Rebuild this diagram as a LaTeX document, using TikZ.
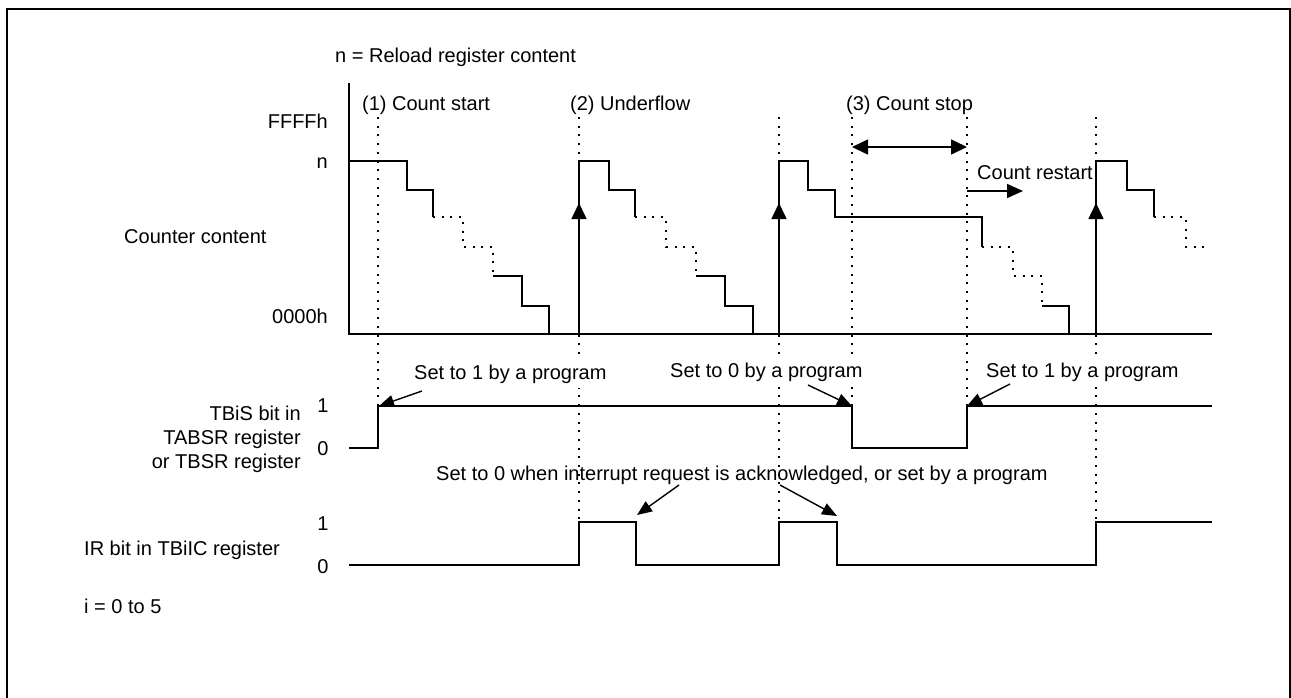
\documentclass[tikz,border=0pt]{standalone}
\usepackage{fontspec}
\setmainfont{Liberation Sans}
\usetikzlibrary{arrows.meta}
\begin{document}
\begin{tikzpicture}[x=1pt,y=-1pt,
  every node/.style={font=\fontsize{20}{24}\selectfont, inner sep=0pt},
  wave/.style={line width=1.6pt, line join=miter},
  dotln/.style={line width=2pt, dash pattern=on 2pt off 6.7pt},
  uptip/.style={line width=1.6pt, -{Triangle[length=16pt,width=15pt]}},
  lbltip/.style={line width=1.4pt, -{Triangle[length=15pt,width=12pt]}},
  lbl/.style={fill=white, inner xsep=2pt, inner ysep=5pt},
]
\clip (0,0) rectangle (1291,697);
\useasboundingbox (0,0) rectangle (1291,697);
\draw[line width=2.2pt] (7,9) rectangle (1290,720);

% dotted guide lines
\coordinate (d1t) at (378,117); \coordinate (d1b) at (378,406);
\coordinate (d2t) at (579,117); \coordinate (d2b) at (579,522);
\coordinate (d3t) at (779,117); \coordinate (d3b) at (779,522);
\coordinate (d4t) at (852,117); \coordinate (d4b) at (852,406);
\coordinate (d5t) at (967,117); \coordinate (d5b) at (967,406);
\coordinate (d6t) at (1096,117); \coordinate (d6b) at (1096,522);
\foreach \i in {1,...,6} { \draw[dotln] (d\i t) -- (d\i b); }

% axes
\coordinate (axtop) at (349,83);
\coordinate (orig) at (349,334);
\coordinate (axend) at (1212,334);
\draw[wave] (axtop) -- (orig) -- (axend);

% counter content
\draw[wave] (349,161) -- (407,161) -- (407,190) -- (433,190) -- (433,217);
\draw[dotln] (433,217) -- (463,217) -- (463,247) -- (493,247) -- (493,276);
\draw[wave] (493,276) -- (522,276) -- (522,306) -- (549,306) -- (549,334);

\draw[wave] (579,334) -- (579,161) -- (609,161) -- (609,190) -- (635,190) -- (635,217);
\draw[dotln] (635,217) -- (666,217) -- (666,247) -- (696,247) -- (696,276);
\draw[wave] (696,276) -- (725,276) -- (725,306) -- (753,306) -- (753,334);

\draw[wave] (779,334) -- (779,161) -- (808,161) -- (808,190) -- (835,190) -- (835,217) -- (982,217) -- (982,247);
\draw[dotln] (982,247) -- (1013,247) -- (1013,276) -- (1042,276) -- (1042,306);
\draw[wave] (1042,306) -- (1069,306) -- (1069,334);

\draw[wave] (1096,334) -- (1096,161) -- (1127,161) -- (1127,190) -- (1154,190) -- (1154,217);
\draw[dotln] (1154,217) -- (1186,217) -- (1186,247) -- (1207,247);

% underflow arrows
\coordinate (u1) at (579,334); \coordinate (u1t) at (579,203);
\coordinate (u2) at (779,334); \coordinate (u2t) at (779,203);
\coordinate (u3) at (1096,334); \coordinate (u3t) at (1096,203);
\draw[uptip] (u1) -- (u1t);
\draw[uptip] (u2) -- (u2t);
\draw[uptip] (u3) -- (u3t);

% stop interval and restart
\coordinate (stopl) at (852,147); \coordinate (stopr) at (967,147);
\draw[line width=1.6pt, {Triangle[length=16pt,width=15pt]}-{Triangle[length=16pt,width=15pt]}] (stopl) -- (stopr);
\coordinate (rs) at (967,191); \coordinate (re) at (1023,191);
\draw[line width=1.6pt, -{Triangle[length=16pt,width=14pt]}] (rs) -- (re);

% TBiS waveform
\draw[wave] (349,448) -- (378,448) -- (378,406) -- (852,406) -- (852,448) -- (967,448) -- (967,406) -- (1212,406);

% IR waveform
\draw[wave] (349,565) -- (579,565) -- (579,522) -- (636,522) -- (636,565) -- (779,565) -- (779,522) -- (837,522) -- (837,565) -- (1096,565) -- (1096,522) -- (1212,522);

% texts
\node[anchor=base west] (title) at (335,62) {n = Reload register content};
\node[anchor=base west] (ev1) at (362,110) {(1) Count start};
\node[anchor=base west] (ev2) at (570,110) {(2) Underflow};
\node[anchor=base west] (ev3) at (846,110) {(3) Count stop};
\node[anchor=base west] (restart) at (977,179) {Count restart};
\node[anchor=base east] (ffff) at (328,128) {FFFFh};
\node[anchor=base east] (nlab) at (328,168) {n};
\node[anchor=base west] (cc) at (124,243) {Counter content};
\node[anchor=base east] (zero) at (328,323) {0000h};
\node[anchor=base east] (tb1) at (301,420) {TBiS bit in};
\node[anchor=base east] (tb2) at (301,444) {TABSR register};
\node[anchor=base east] (tb3) at (301,468) {or TBSR register};
\node[anchor=base] (tbone) at (323,412) {1};
\node[anchor=base] (tbzero) at (323,455) {0};
\node[anchor=base west] (ir) at (84,555) {IR bit in TBiIC register};
\node[anchor=base] (irone) at (323,530) {1};
\node[anchor=base] (irzero) at (323,573) {0};
\node[anchor=base west] (inote) at (84,613) {i = 0 to 5};

\node[lbl, anchor=base west] (s1) at (412,379) {Set to 1 by a program};
\node[lbl, anchor=base west] (s0) at (668,377) {Set to 0 by a program};
\node[lbl, anchor=base west] (s1b) at (984,377) {Set to 1 by a program};
\node[anchor=base west] (ack) at (436,480) {Set to 0 when interrupt request is acknowledged, or set by a program};

% label arrows
\coordinate (a1s) at (422,391); \coordinate (a1t) at (379,406);
\coordinate (a2s) at (808,385); \coordinate (a2t) at (852,406);
\coordinate (a3s) at (1010,384); \coordinate (a3t) at (967,406);
\coordinate (a4s) at (679,485); \coordinate (a4t) at (637,515);
\coordinate (a5s) at (780,485); \coordinate (a5t) at (837,516);
\draw[lbltip] (a1s) -- (a1t);
\draw[lbltip] (a2s) -- (a2t);
\draw[lbltip] (a3s) -- (a3t);
\draw[lbltip] (a4s) -- (a4t);
\draw[lbltip] (a5s) -- (a5t);
\end{tikzpicture}
\end{document}
